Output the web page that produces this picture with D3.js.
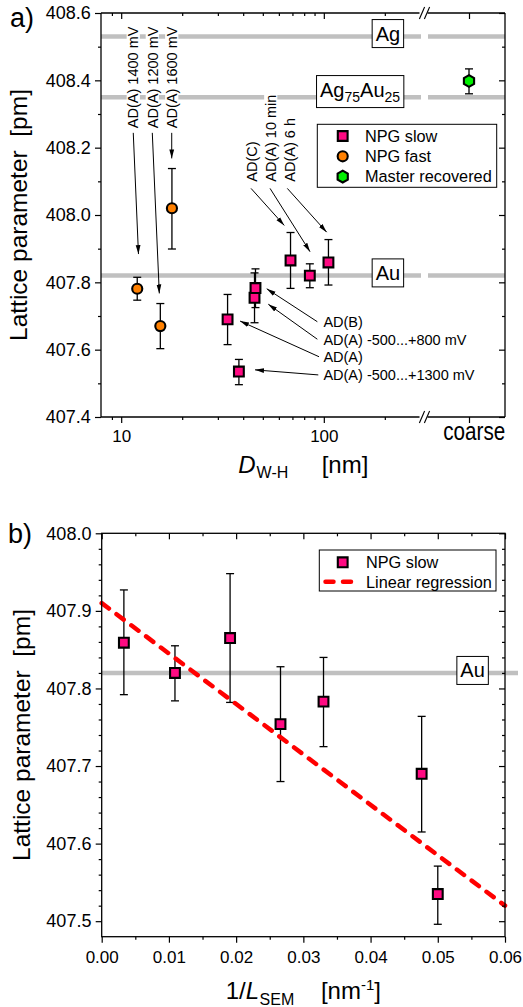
<!DOCTYPE html>
<html>
<head>
<meta charset="utf-8">
<script src="https://cdn.jsdelivr.net/npm/d3@7"></script>
<style>
  body { margin: 0; background: #fff; }
  svg { display: block; }
</style>
</head>
<body>
<svg id="chart"></svg>
<script>
// ---------- data ----------
// reference lattice parameters (pm)
const refNames  = ["Ag", "Ag75Au25", "Au"];
const refValues = [408.53, 408.35, 407.82];

// NPG slow: crystallite size D (nm), inverse ligament size (1/nm), lattice parameter with error range
const slowD    = [105.4, 85.3, 68.5, 45.5, 46.0, 33.5, 38.1];
const slowInvL = [0.0033, 0.0109, 0.0191, 0.0266, 0.0330, 0.0476, 0.0500];
const slowA    = [407.859, 407.820, 407.865, 407.754, 407.783, 407.690, 407.535];
const slowLo   = [407.792, 407.784, 407.782, 407.680, 407.725, 407.615, 407.496];
const slowHi   = [407.927, 407.855, 407.948, 407.828, 407.840, 407.764, 407.571];

// NPG fast
const fastD  = [12.0, 15.6, 17.8];
const fastA  = [407.781, 407.670, 408.020];
const fastLo = [407.747, 407.603, 407.899];
const fastHi = [407.815, 407.737, 408.138];

// master alloy, recovered
const masterCat = ["coarse"];
const masterA   = [408.398];
const masterLo  = [408.360];
const masterHi  = [408.434];

// linear regression of NPG slow vs 1/L
const regIntercept = 407.91;
const regSlope     = -6.5;
const regX         = [0, 0.06];

// tick values
const topYMajor = [407.4, 407.6, 407.8, 408.0, 408.2, 408.4, 408.6];
const topYMinor = [407.5, 407.7, 407.9, 408.1, 408.3, 408.5];
const topXMajor = [10, 100];
const topXMinor = [9, 20, 30, 40, 50, 60, 70, 80, 90, 200];
const botXMajor = [0, 0.01, 0.02, 0.03, 0.04, 0.05, 0.06];
const botXMinor = [0.005, 0.015, 0.025, 0.035, 0.045, 0.055];
const botYMajor = [407.5, 407.6, 407.7, 407.8, 407.9, 408.0];
const botYMinor = [407.52, 407.54, 407.56, 407.58, 407.62, 407.64, 407.66, 407.68,
                   407.72, 407.74, 407.76, 407.78, 407.82, 407.84, 407.86, 407.88,
                   407.92, 407.94, 407.96, 407.98];

// annotations of panel a): vertical labels (label anchor, arrow tail, arrow tip in data units)
const noteV      = ["AD(A) 1400 mV", "AD(A) 1200 mV", "AD(A) 1600 mV", "AD(C)", "AD(A) 10 min", "AD(A) 6 h"];
const noteVD     = [11.47, 14.24, 17.76, 44.07, 54.7, 68.1];
const noteVA     = [408.258, 408.258, 408.258, 408.099, 408.099, 408.099];
const noteVTailD = [11.47, 14.24, 17.76, 43.73, 54.27, 66.04];
const noteVTailA = [408.244, 408.244, 408.244, 408.079, 408.079, 408.079];
const noteVTipD  = [12.17, 15.42, 17.76, 63.83, 85.5, 103.3];
const noteVTipA  = [407.884, 407.767, 408.168, 407.969, 407.891, 407.949];

// horizontal labels
const noteH      = ["AD(B)", "AD(A) -500...+800 mV", "AD(A)", "AD(A) -500...+1300 mV"];
const noteHD     = [99.5, 99.5, 99.5, 99.5];
const noteHA     = [407.666, 407.614, 407.5625, 407.510];
const noteHTailD = [92.9, 92.9, 94.7, 93.9];
const noteHTailA = [407.683, 407.631, 407.579, 407.525];
const noteHTipD  = [52.27, 53.2, 38.6, 45.75];
const noteHTipA  = [407.781, 407.735, 407.685, 407.540];

// ---------- setup ----------
const FONT = '"Liberation Sans", Arial, Helvetica, sans-serif';
const W = 523, H = 1007;
const C_SLOW = "#ff0a82", C_FAST = "#ff8000", C_MASTER = "#00f000", C_REF = "#c0c0c0";

const svg = d3.select("#chart").attr("width", W).attr("height", H)
  .style("font-family", FONT);

const P1 = { left: 101, right: 505, top: 13, bottom: 417, brk0: 421, brk1: 428 };
const P2 = { left: 101.7, right: 505, top: 533.3, bottom: 936.7 };

const xD = d3.scaleLog().domain([7.95, 300]).range([P1.left, 420.5]);
const xC = d3.scalePoint().domain(masterCat).range([433, P1.right]).padding(0.5);
const y1 = d3.scaleLinear().domain([407.4, 408.6]).range([P1.bottom, P1.top]);
const x2 = d3.scaleLinear().domain([0, 0.06]).range([P2.left, P2.right]);
const y2 = d3.scaleLinear().domain([407.48, 408.0]).range([P2.bottom, P2.top]);

const defs = svg.append("defs");
defs.append("marker").attr("id", "arrowhead")
  .attr("viewBox", "0 -3 9 6").attr("refX", 9).attr("refY", 0)
  .attr("markerWidth", 9).attr("markerHeight", 6)
  .attr("markerUnits", "userSpaceOnUse").attr("orient", "auto")
  .append("path").attr("d", "M0,-2.4L9,0L0,2.4Z").attr("fill", "#000");

// hexagon symbol (pointy top)
const symbolHexagon = {
  draw(ctx, size) {
    const r = Math.sqrt(size / (1.5 * Math.sqrt(3)));
    for (let i = 0; i < 6; i++) {
      const a = Math.PI / 3 * i - Math.PI / 2;
      const px = r * Math.cos(a), py = r * Math.sin(a);
      if (i === 0) ctx.moveTo(px, py); else ctx.lineTo(px, py);
    }
    ctx.closePath();
  }
};
const squarePath = d3.symbol(d3.symbolSquare, 96)();
const circlePath = d3.symbol(d3.symbolCircle, 80)();
const hexPath    = d3.symbol(symbolHexagon, 90)();

function ticks(parent, make, scale, tx, ty, values, size, fmt, fs, pad) {
  const ax = make(scale).tickValues(values).tickSize(size).tickSizeOuter(0)
    .tickPadding(pad || 3).tickFormat(fmt || (() => ""));
  const g = parent.append("g").attr("transform", `translate(${tx},${ty})`).call(ax);
  g.select(".domain").remove();
  g.selectAll(".tick line").attr("stroke", "#000").attr("stroke-width", 1.2);
  g.selectAll(".tick text").attr("font-family", FONT).attr("font-size", fs || 10).attr("fill", "#000");
  return g;
}

function errorBars(g, xs, lo, hi, ys, capW) {
  const idx = d3.range(xs.length);
  const eb = g.append("g").attr("stroke", "#000").attr("stroke-width", 1.3);
  eb.selectAll(".v").data(idx).join("line")
    .attr("x1", i => xs[i]).attr("x2", i => xs[i])
    .attr("y1", i => ys(lo[i])).attr("y2", i => ys(hi[i]));
  eb.selectAll(".lo").data(idx).join("line")
    .attr("x1", i => xs[i] - capW / 2).attr("x2", i => xs[i] + capW / 2)
    .attr("y1", i => ys(lo[i])).attr("y2", i => ys(lo[i]));
  eb.selectAll(".hi").data(idx).join("line")
    .attr("x1", i => xs[i] - capW / 2).attr("x2", i => xs[i] + capW / 2)
    .attr("y1", i => ys(hi[i])).attr("y2", i => ys(hi[i]));
}

function markers(g, xs, vals, ys, path, fill) {
  g.append("g").selectAll("path").data(d3.range(xs.length)).join("path")
    .attr("d", path)
    .attr("transform", i => `translate(${xs[i]},${ys(vals[i])})`)
    .attr("fill", fill).attr("stroke", "#000").attr("stroke-width", 2.1);
}

function refBox(g, text, subs, xRight, yLine, baselineShift) {
  const t = g.append("text").attr("x", xRight).attr("y", yLine + baselineShift)
    .attr("text-anchor", "end").attr("font-size", 20).attr("fill", "#000");
  if (subs) {
    t.append("tspan").text("Ag");
    t.append("tspan").attr("font-size", 14).attr("dy", 5).text("75");
    t.append("tspan").attr("dy", -5).text("Au");
    t.append("tspan").attr("font-size", 14).attr("dy", 5).text("25");
  } else {
    t.text(text);
  }
  const b = t.node().getBBox();
  g.insert("rect", "text:last-of-type")
    .attr("x", b.x - 3.5).attr("y", b.y - 3).attr("width", b.width + 7).attr("height", b.height + 6)
    .attr("fill", "#fff").attr("stroke", "#000").attr("stroke-width", 1);
  t.raise();
}

// ================= panel a) =================
const p1 = svg.append("g");

// reference lines, interrupted at the axis break
const refG = p1.append("g").attr("stroke", C_REF).attr("stroke-width", 4.5);
refValues.forEach(v => {
  refG.append("line").attr("x1", P1.left).attr("x2", P1.brk0).attr("y1", y1(v)).attr("y2", y1(v));
  refG.append("line").attr("x1", P1.brk1).attr("x2", P1.right).attr("y1", y1(v)).attr("y2", y1(v));
});

// vertical annotation labels on white background
noteV.forEach((txt, i) => {
  const g = p1.append("g").attr("transform", `translate(${xD(noteVD[i])},${y1(noteVA[i])}) rotate(-90)`);
  const t = g.append("text").attr("x", 0).attr("y", 0).attr("dy", "0.36em")
    .attr("font-size", 14.5).attr("fill", "#000").text(txt);
  const b = t.node().getBBox();
  g.insert("rect", "text").attr("x", b.x - 1).attr("y", -6.6).attr("width", b.width + 2).attr("height", 13.2)
    .attr("fill", "#fff");
});

// horizontal annotation labels
noteH.forEach((txt, i) => {
  p1.append("text").attr("x", xD(noteHD[i])).attr("y", y1(noteHA[i]))
    .attr("font-size", 14.5).attr("fill", "#000").text(txt);
});

// reference labels in boxes
const labelX1 = xD(238);
refBox(p1.append("g"), "Ag", false, labelX1, y1(refValues[0]), 4);
refBox(p1.append("g"), "", true, labelX1, y1(refValues[1]), -0.6);
refBox(p1.append("g"), "Au", false, labelX1, y1(refValues[2]), 4.3);

// legend
const lg1 = p1.append("g");
lg1.append("rect").attr("x", 317.3).attr("y", 124.3).attr("width", 179.4).attr("height", 63)
  .attr("fill", "#fff").attr("stroke", "#000").attr("stroke-width", 1);
[["NPG slow", squarePath, C_SLOW], ["NPG fast", circlePath, C_FAST], ["Master recovered", hexPath, C_MASTER]]
  .forEach(([name, path, fill], i) => {
    const yy = 136 + i * 20.3;
    lg1.append("path").attr("d", path).attr("transform", `translate(342.7,${yy})`)
      .attr("fill", fill).attr("stroke", "#000").attr("stroke-width", 2.1);
    lg1.append("text").attr("x", 365).attr("y", yy + 5.8).attr("font-size", 16.3).attr("fill", "#000").text(name);
  });

// annotation arrows
const arrG = p1.append("g").attr("stroke", "#000").attr("stroke-width", 1).attr("marker-end", "url(#arrowhead)");
noteV.forEach((_, i) => {
  arrG.append("line").attr("x1", xD(noteVTailD[i])).attr("y1", y1(noteVTailA[i]))
    .attr("x2", xD(noteVTipD[i])).attr("y2", y1(noteVTipA[i]));
});
noteH.forEach((_, i) => {
  arrG.append("line").attr("x1", xD(noteHTailD[i])).attr("y1", y1(noteHTailA[i]))
    .attr("x2", xD(noteHTipD[i])).attr("y2", y1(noteHTipA[i]));
});

// data
const slowX1 = slowD.map(d => xD(d));
const fastX1 = fastD.map(d => xD(d));
const masterX = masterCat.map(c => xC(c));
errorBars(p1, fastX1, fastLo, fastHi, y1, 8);
errorBars(p1, slowX1, slowLo, slowHi, y1, 8);
errorBars(p1, masterX, masterLo, masterHi, y1, 8);
markers(p1, fastX1, fastA, y1, circlePath, C_FAST);
markers(p1, slowX1, slowA, y1, squarePath, C_SLOW);
markers(p1, masterX, masterA, y1, hexPath, C_MASTER);

// axes frame with break
const fr1 = p1.append("g").attr("stroke", "#000").attr("stroke-width", 1.3);
fr1.append("line").attr("x1", P1.left).attr("x2", P1.left).attr("y1", P1.top).attr("y2", P1.bottom);
fr1.append("line").attr("x1", P1.right).attr("x2", P1.right).attr("y1", P1.top).attr("y2", P1.bottom);
[P1.top, P1.bottom].forEach(yy => {
  fr1.append("line").attr("x1", P1.left).attr("x2", P1.brk0 - 1.5).attr("y1", yy).attr("y2", yy);
  fr1.append("line").attr("x1", P1.brk1 - 0.5).attr("x2", P1.right).attr("y1", yy).attr("y2", yy);
  [-2.5, 2.5].forEach(dx => {
    const cx = (P1.brk0 + P1.brk1) / 2 + dx;
    fr1.append("line").attr("stroke-width", 1.1)
      .attr("x1", cx - 2.6).attr("y1", yy + 6).attr("x2", cx + 2.6).attr("y2", yy - 6);
  });
});

ticks(p1, d3.axisLeft, y1, P1.left, 0, topYMajor, 6, d3.format(".1f"), 18, 4.3);
ticks(p1, d3.axisLeft, y1, P1.left, 0, topYMinor, 3);
ticks(p1, d3.axisRight, y1, P1.right, 0, topYMajor, -6);
ticks(p1, d3.axisRight, y1, P1.right, 0, topYMinor, -3);
ticks(p1, d3.axisBottom, xD, 0, P1.bottom, topXMajor, 6, d3.format("d"), 17, 6.6);
ticks(p1, d3.axisBottom, xD, 0, P1.bottom, topXMinor, 3);
ticks(p1, d3.axisTop, xD, 0, P1.top, topXMajor, -6);
ticks(p1, d3.axisTop, xD, 0, P1.top, topXMinor, -3);
const coarseAx = ticks(p1, d3.axisBottom, xC, 0, P1.bottom, masterCat, 6, d => d, 26, 0);
coarseAx.selectAll(".tick text").attr("text-anchor", "start").attr("x", -26.3).attr("y", 23).attr("dy", null)
  .attr("textLength", 62).attr("lengthAdjust", "spacingAndGlyphs");
ticks(p1, d3.axisTop, xC, 0, P1.top, masterCat, -6);

// titles
p1.append("text").attr("x", 10).attr("y", 27).attr("font-size", 27).attr("fill", "#000").text("a)");
p1.append("text").attr("transform", `translate(27,${(P1.top + P1.bottom) / 2}) rotate(-90)`)
  .attr("text-anchor", "middle").attr("font-size", 24.5).attr("fill", "#000")
  .style("white-space", "pre").text("Lattice parameter  [pm]");
const xt1 = p1.append("text").attr("x", 303.3).attr("y", 472.7).attr("text-anchor", "middle")
  .attr("font-size", 24).attr("fill", "#000").style("white-space", "pre");
xt1.append("tspan").attr("font-style", "italic").text("D");
xt1.append("tspan").attr("font-size", 16).attr("dy", 5.5).attr("dx", 1).text("W-H");
xt1.append("tspan").attr("dy", -5.5).text("     [nm]");

// ================= panel b) =================
const p2 = svg.append("g");

// Au reference line
p2.append("line").attr("x1", P2.left).attr("x2", 518).attr("y1", y2(refValues[2])).attr("y2", y2(refValues[2]))
  .attr("stroke", C_REF).attr("stroke-width", 4.5);
refBox(p2.append("g"), "Au", false, x2(0.057), y2(refValues[2]), 4.5);

// legend
const lg2 = p2.append("g");
lg2.append("rect").attr("x", 319.3).attr("y", 550).attr("width", 176.7).attr("height", 41)
  .attr("fill", "#fff").attr("stroke", "#000").attr("stroke-width", 1);
lg2.append("path").attr("d", squarePath).attr("transform", "translate(342.7,562.3)")
  .attr("fill", C_SLOW).attr("stroke", "#000").attr("stroke-width", 2.1);
lg2.append("text").attr("x", 366).attr("y", 568.1).attr("font-size", 16.3).attr("fill", "#000").text("NPG slow");
lg2.append("line").attr("x1", 325.5).attr("x2", 351).attr("y1", 581.7).attr("y2", 581.7)
  .attr("stroke", "#ff0000").attr("stroke-width", 4.5).attr("stroke-linecap", "round")
  .attr("stroke-dasharray", "8,9.5");
lg2.append("text").attr("x", 366).attr("y", 587.5).attr("font-size", 16.3).attr("fill", "#000").text("Linear regression");

// data
const slowX2 = slowInvL.map(v => x2(v));
errorBars(p2, slowX2, slowLo, slowHi, y2, 8);
markers(p2, slowX2, slowA, y2, squarePath, C_SLOW);

// regression line
const regLine = d3.line().x(v => x2(v)).y(v => y2(regIntercept + regSlope * v));
p2.append("path").attr("d", regLine(regX)).attr("fill", "none")
  .attr("stroke", "#ff0000").attr("stroke-width", 4.5).attr("stroke-linecap", "round")
  .attr("stroke-dasharray", "9,9.5");

// frame
p2.append("rect").attr("x", P2.left).attr("y", P2.top)
  .attr("width", P2.right - P2.left).attr("height", P2.bottom - P2.top)
  .attr("fill", "none").attr("stroke", "#000").attr("stroke-width", 1.3);

ticks(p2, d3.axisLeft, y2, P2.left, 0, botYMajor, 6, d3.format(".1f"), 18, 4.3);
ticks(p2, d3.axisLeft, y2, P2.left, 0, botYMinor, 3);
ticks(p2, d3.axisRight, y2, P2.right, 0, botYMajor, -6);
ticks(p2, d3.axisRight, y2, P2.right, 0, botYMinor, -3);
ticks(p2, d3.axisBottom, x2, 0, P2.bottom, botXMajor, 6, d3.format(".2f"), 17, 8);
ticks(p2, d3.axisBottom, x2, 0, P2.bottom, botXMinor, 3);
ticks(p2, d3.axisTop, x2, 0, P2.top, botXMajor, -6);
ticks(p2, d3.axisTop, x2, 0, P2.top, botXMinor, -3);

// titles
p2.append("text").attr("x", 8).attr("y", 543).attr("font-size", 27).attr("fill", "#000").text("b)");
p2.append("text").attr("transform", `translate(29.5,${(P2.top + P2.bottom) / 2}) rotate(-90)`)
  .attr("text-anchor", "middle").attr("font-size", 24.5).attr("fill", "#000")
  .style("white-space", "pre").text("Lattice parameter  [pm]");
const xt2 = p2.append("text").attr("x", 303.3).attr("y", 999).attr("text-anchor", "middle")
  .attr("font-size", 24).attr("fill", "#000").style("white-space", "pre");
xt2.append("tspan").text("1/");
xt2.append("tspan").attr("font-style", "italic").text("L");
xt2.append("tspan").attr("font-size", 16).attr("dy", 5.5).attr("dx", 0.5).text("SEM");
xt2.append("tspan").attr("dy", -5.5).text("    [nm");
xt2.append("tspan").attr("font-size", 15).attr("dy", -9).text("-1");
xt2.append("tspan").attr("dy", 9).text("]");
</script>
</body>
</html>
